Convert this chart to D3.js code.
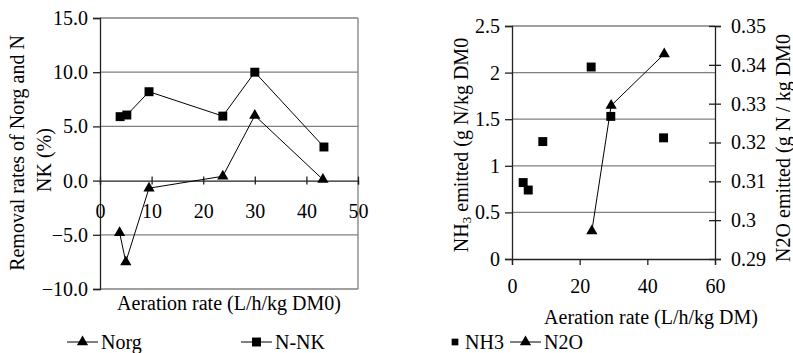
<!DOCTYPE html>
<html>
<head>
<meta charset="utf-8">
<script src="https://cdn.jsdelivr.net/npm/d3@7"></script>
<style>
  body { margin: 0; background: #fff; }
</style>
</head>
<body>
<svg id="chart" width="793" height="353"></svg>
<script>
// left panel: removal rates vs aeration rate
const norgX = [3.8, 5.0, 9.5, 23.8, 30.0, 43.2];
const norgY = [-4.8, -7.5, -0.7, 0.4, 6.0, 0.1];
const nnkX = [3.9, 5.2, 9.5, 23.8, 30.0, 43.4];
const nnkY = [5.9, 6.05, 8.2, 5.95, 10.0, 3.1];
const leftXTicks = [0, 10, 20, 30, 40, 50];
const leftYTicks = [-10, -5, 0, 5, 10, 15];

// right panel: emissions vs aeration rate
const nh3X = [3.3, 4.8, 9.1, 23.4, 29.2, 44.8];
const nh3Y = [0.82, 0.74, 1.26, 2.06, 1.53, 1.30];
const n2oX = [23.6, 29.3, 45.0];
const n2oY = [0.2972, 0.3295, 0.3428];
const rightXTicks = [0, 20, 40, 60];
const rightYTicks = [0, 0.5, 1, 1.5, 2, 2.5];
const n2oTicks = [0.29, 0.30, 0.31, 0.32, 0.33, 0.34, 0.35];

const svg = d3.select("#chart");
const fs = 20;
const font = "'Liberation Serif', 'Times New Roman', serif";
const gridCol = "#808080";

const tri = d3.symbol().type(d3.symbolTriangle).size(55);
const sq = d3.symbol().type(d3.symbolSquare).size(80);

// ---------- left panel ----------
const xL = d3.scaleLinear().domain([0, 50]).range([100, 358]);
const yL = d3.scaleLinear().domain([-10, 15]).range([289, 18]);

const gl = svg.append("g");

// gridlines
gl.selectAll("line.grid")
  .data(leftYTicks.filter(d => d !== 0 && d !== -10))
  .enter().append("line")
  .attr("x1", xL(0)).attr("x2", xL(50))
  .attr("y1", d => yL(d)).attr("y2", d => yL(d))
  .attr("stroke", gridCol).attr("stroke-width", 1.3);

// plot border (bottom + right)
gl.append("line")
  .attr("x1", xL(0)).attr("x2", xL(50)).attr("y1", yL(-10)).attr("y2", yL(-10))
  .attr("stroke", gridCol).attr("stroke-width", 1.3);
gl.append("line")
  .attr("x1", xL(50)).attr("x2", xL(50)).attr("y1", yL(15)).attr("y2", yL(-10))
  .attr("stroke", gridCol).attr("stroke-width", 1.3);

// y axis
const yAxisL = gl.append("g")
  .attr("transform", `translate(${xL(0)},0)`)
  .call(d3.axisLeft(yL).tickValues(leftYTicks).tickFormat(d3.format(".1f")).tickSize(7).tickPadding(5));
yAxisL.select(".domain").attr("stroke", "#222").attr("stroke-width", 1.3);
yAxisL.selectAll(".tick line").attr("stroke", "#222").attr("stroke-width", 1.3);

// x axis at y=0, cross ticks
const xAxisL = gl.append("g")
  .attr("transform", `translate(0,${yL(0)})`)
  .call(d3.axisBottom(xL).tickValues(leftXTicks).tickSize(4).tickPadding(19));
xAxisL.select(".domain").attr("stroke", "#222").attr("stroke-width", 1.3);
xAxisL.selectAll(".tick line").attr("y1", -4).attr("stroke", "#222").attr("stroke-width", 1.3);

const lineL = d3.line().x(d => xL(d[0])).y(d => yL(d[1]));
const norgPts = norgX.map((x, i) => [x, norgY[i]]);
const nnkPts = nnkX.map((x, i) => [x, nnkY[i]]);

gl.append("path").attr("d", lineL(norgPts)).attr("fill", "none").attr("stroke", "#000").attr("stroke-width", 1);
gl.append("path").attr("d", lineL(nnkPts)).attr("fill", "none").attr("stroke", "#000").attr("stroke-width", 1);
gl.selectAll("path.tri").data(norgPts).enter().append("path")
  .attr("d", tri).attr("transform", d => `translate(${xL(d[0])},${yL(d[1])})`).attr("fill", "#000");
gl.selectAll("path.sq").data(nnkPts).enter().append("path")
  .attr("d", sq).attr("transform", d => `translate(${xL(d[0])},${yL(d[1])})`).attr("fill", "#000");

// axis titles
gl.append("text")
  .attr("transform", "translate(24,153) rotate(-90)")
  .attr("text-anchor", "middle")
  .text("Removal rates of Norg and N");
gl.append("text")
  .attr("transform", "translate(51,160) rotate(-90)")
  .attr("text-anchor", "middle")
  .text("NK (%)");
gl.append("text")
  .attr("x", 229).attr("y", 310)
  .attr("text-anchor", "middle")
  .text("Aeration rate (L/h/kg DM0)");

// ---------- right panel ----------
const xR = d3.scaleLinear().domain([0, 60]).range([512, 715]);
const yR = d3.scaleLinear().domain([0, 2.5]).range([259, 26]);
const yR2 = d3.scaleLinear().domain([0.29, 0.35]).range([259, 26]);

const gr = svg.append("g");

gr.selectAll("line.grid")
  .data(rightYTicks.filter(d => d !== 0))
  .enter().append("line")
  .attr("x1", xR(0)).attr("x2", xR(60))
  .attr("y1", d => yR(d)).attr("y2", d => yR(d))
  .attr("stroke", gridCol).attr("stroke-width", 1.3);

const yAxisR = gr.append("g")
  .attr("transform", `translate(${xR(0)},0)`)
  .call(d3.axisLeft(yR).tickValues(rightYTicks).tickFormat(d3.format("")).tickSize(7).tickPadding(5));
yAxisR.select(".domain").attr("stroke", "#222").attr("stroke-width", 1.3);
yAxisR.selectAll(".tick line").attr("stroke", "#222").attr("stroke-width", 1.3);

const xAxisR = gr.append("g")
  .attr("transform", `translate(0,${yR(0)})`)
  .call(d3.axisBottom(xR).tickValues(rightXTicks).tickSize(6).tickPadding(14));
xAxisR.select(".domain").attr("stroke", "#222").attr("stroke-width", 1.3);
xAxisR.selectAll(".tick line").attr("stroke", "#222").attr("stroke-width", 1.3);

const y2Axis = gr.append("g")
  .attr("transform", `translate(${xR(60)},0)`)
  .call(d3.axisRight(yR2).tickValues(n2oTicks).tickFormat(d => d3.format(".2f")(d).replace(/0$/, "")).tickSize(6).tickPadding(10));
y2Axis.select(".domain").attr("stroke", "#222").attr("stroke-width", 1.3);
y2Axis.selectAll(".tick line").attr("x1", -6).attr("stroke", "#222").attr("stroke-width", 1.3);

const nh3Pts = nh3X.map((x, i) => [x, nh3Y[i]]);
const n2oPts = n2oX.map((x, i) => [x, n2oY[i]]);
const lineR = d3.line().x(d => xR(d[0])).y(d => yR2(d[1]));

gr.append("path").attr("d", lineR(n2oPts)).attr("fill", "none").attr("stroke", "#000").attr("stroke-width", 1);
gr.selectAll("path.sq").data(nh3Pts).enter().append("path")
  .attr("d", sq).attr("transform", d => `translate(${xR(d[0])},${yR(d[1])})`).attr("fill", "#000");
gr.selectAll("path.tri").data(n2oPts).enter().append("path")
  .attr("d", tri).attr("transform", d => `translate(${xR(d[0])},${yR2(d[1])})`).attr("fill", "#000");

const nh3Title = gr.append("text")
  .attr("transform", "translate(468,145) rotate(-90)")
  .attr("text-anchor", "middle");
nh3Title.append("tspan").text("NH");
nh3Title.append("tspan").attr("dy", 3).style("font-size", "13px").text("3");
nh3Title.append("tspan").attr("dy", -3).text(" emitted (g N/kg DM0");

gr.append("text")
  .attr("transform", "translate(790,148) rotate(-90)")
  .attr("text-anchor", "middle")
  .text("N2O emitted (g N / kg DM0");
gr.append("text")
  .attr("x", 651).attr("y", 324)
  .attr("text-anchor", "middle")
  .text("Aeration rate (L/h/kg DM)");

// ---------- legend ----------
const legY = 342;
const lg = svg.append("g");
const legItems = [
  { name: "Norg", x: 67, line: true, sym: tri },
  { name: "N-NK", x: 241, line: true, sym: sq },
  { name: "NH3", x: 447, line: false, sym: sq },
  { name: "N2O", x: 510, line: true, sym: tri }
];
legItems.forEach(it => {
  if (it.line) {
    lg.append("line").attr("x1", it.x).attr("x2", it.x + 31)
      .attr("y1", legY).attr("y2", legY).attr("stroke", "#000").attr("stroke-width", 1);
  }
  lg.append("path").attr("d", it.line ? it.sym : d3.symbol().type(d3.symbolSquare).size(45))
    .attr("transform", `translate(${it.x + (it.line ? 15.5 : 8)},${legY})`).attr("fill", "#000");
  lg.append("text").attr("x", it.x + (it.line ? 34 : 18)).attr("y", legY + 7)
    .text(it.name);
});

// every label in the serif face of the original
svg.selectAll("text")
  .style("font-family", font)
  .style("font-size", function () { return this.style.fontSize || fs + "px"; })
  .style("fill", "#000");
</script>
</body>
</html>
